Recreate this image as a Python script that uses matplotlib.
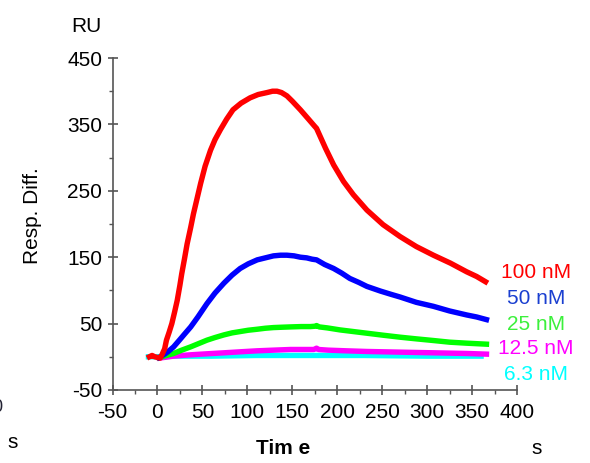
import matplotlib
matplotlib.use("Agg")
import matplotlib.pyplot as plt
from matplotlib.ticker import MultipleLocator

plt.rcParams['font.family'] = ['Liberation Sans', 'DejaVu Sans']
plt.rcParams['axes.unicode_minus'] = False

# ---- data ----
t_red = [-9, -6, -3, 0, 3, 5, 8, 10, 13, 16, 19, 22, 25, 27, 30, 33, 37, 40, 44, 48, 53,
         59, 64, 70, 77, 84, 93, 103, 112, 122, 128, 133, 138, 144, 150, 159, 168, 175,
         177, 187, 196, 207, 218, 233, 251, 270, 288, 307, 326, 344, 355, 365]
v_red = [0, 2, 0, -1, -2, 3, 12, 25, 37, 50, 67, 85, 108, 125, 147, 170, 195, 215, 238,
         261, 287, 311, 327, 342, 358, 372, 382, 390, 395, 398, 400, 400, 398, 393, 385,
         372, 358, 347, 344, 314, 289, 264, 244, 221, 199, 181, 166, 153, 141, 128, 121, 113]

t_blue = [2, 8, 12, 18, 25, 30, 37, 45, 55, 64, 74, 83, 92, 101, 111, 120, 129, 137, 144,
          152, 159, 166, 172, 177, 186, 196, 205, 214, 224, 233, 248, 260, 270, 288, 307,
          325, 344, 355, 366]
v_blue = [-1, 4, 8, 15, 26, 34, 45, 60, 80, 96, 111, 123, 133, 140, 146, 149, 152, 153,
          153, 152, 150, 149, 147, 146, 139, 133, 126, 118, 112, 106, 99, 94, 90, 82, 76,
          69, 63, 60, 56]

t_green = [2, 10, 18, 27, 37, 46, 55, 64, 74, 83, 92, 101, 111, 120, 129, 138, 148, 160,
           170, 175, 177, 180, 189, 196, 203, 215, 233, 251, 270, 288, 307, 325, 344, 366]
v_green = [-1, 2, 5, 10, 15, 20, 25, 29, 33, 36, 38, 40, 41.5, 43, 44, 44.5, 45, 45.5,
           45.5, 46, 47, 45, 43.5, 42, 40.5, 38.5, 35.5, 32.5, 29.5, 27, 24.5, 22, 20.5, 19]

t_mag = [2, 18, 37, 55, 74, 92, 111, 129, 148, 165, 174, 177, 179, 190, 210, 233, 270,
         307, 344, 366]
v_mag = [-2, 1, 3, 4.5, 6, 7.5, 9, 10, 11, 11, 11, 13, 11, 10, 9, 8, 7, 6, 5, 4]

t_cyan = [-10, 0, 20, 60, 110, 175, 230, 300, 360]
v_cyan = [0, 0, 1, 1, 2, 2, 2, 1, 1]

series_labels = ["100 nM", "50 nM", "25 nM", "12.5 nM", "6.3 nM"]
series_colors = ["#ff0000", "#0000ff", "#00ff00", "#ff00ff", "#00ffff"]
label_colors = ["#ff0000", "#1a3fd0", "#3cf03c", "#ff00ff", "#00ffff"]

x_ticks = [-50, 0, 50, 100, 150, 200, 250, 300, 350, 400]
y_ticks = [-50, 50, 150, 250, 350, 450]

# ---- figure ----
fig = plt.figure(figsize=(5.9, 4.63), dpi=100)
ax = fig.add_axes([0.1907, 0.1577, 0.6856, 0.717])

series = [(t_cyan, v_cyan, 4), (t_mag, v_mag, 3), (t_green, v_green, 2),
          (t_blue, v_blue, 1), (t_red, v_red, 0)]
for t, v, i in series:
    ax.plot(t, v, color=series_colors[i], lw=3.9, solid_joinstyle='round')

ax.set_xlim(-50, 400)
ax.set_ylim(-50, 450)
ax.set_xticks(x_ticks)
ax.set_yticks(y_ticks)
ax.xaxis.set_minor_locator(MultipleLocator(25))
ax.yaxis.set_minor_locator(MultipleLocator(50))

for s in ['top', 'right']:
    ax.spines[s].set_visible(False)
for s in ['left', 'bottom']:
    ax.spines[s].set_color('#555555')
    ax.spines[s].set_linewidth(1.2)

ax.tick_params(which='major', direction='inout', length=7, width=1.2, color='#555555',
               labelsize=15, pad=4)
ax.tick_params(which='minor', direction='out', length=3, width=1.0, color='#555555')
ax.tick_params(axis='x', which='major', pad=6)

fig.text(32 / 590, 1 - 216 / 463, "Resp. Diff.", fontsize=15, rotation=90,
         ha='center', va='center')
fig.text(86 / 590, 1 - 27 / 463, "RU", fontsize=15, ha='center', va='center')
fig.text(283 / 590, 1 - 448 / 463, "Tim e", fontsize=15, fontweight='bold',
         ha='center', va='center')
fig.text(13 / 590, 1 - 442 / 463, "s", fontsize=15, ha='center', va='center')
fig.text(537 / 590, 1 - 449 / 463, "s", fontsize=15, ha='center', va='center')
fig.text(-0.004, 1 - 407 / 463, "0", fontsize=13, ha='center', va='center', color='#223')

label_y = [273, 299, 325, 349, 375]
for lab, c, yy in zip(series_labels, label_colors, label_y):
    fig.text(536 / 590, 1 - yy / 463, lab, fontsize=15, color=c, ha='center', va='center')

fig.savefig("out.png", dpi=100)
